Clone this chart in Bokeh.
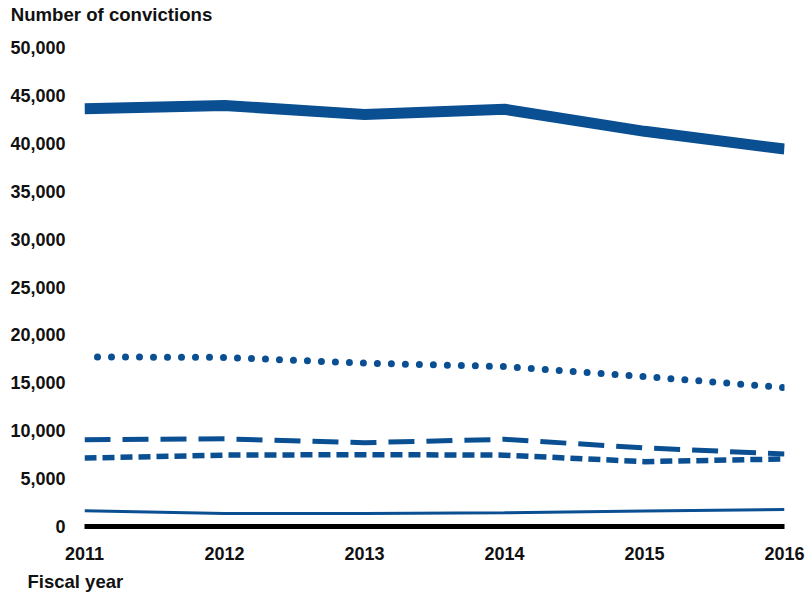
from bokeh.plotting import figure
from bokeh.models import FixedTicker, NumeralTickFormatter, Range1d, LinearAxis, Title
from bokeh.embed import file_html
from bokeh.resources import INLINE

years = [2011, 2012, 2013, 2014, 2015, 2016]
series_total = [43600, 43950, 43000, 43550, 41250, 39400]
series_dotted = [17700, 17650, 17050, 16700, 15650, 14500]
series_longdash = [9050, 9150, 8750, 9100, 8200, 7570]
series_shortdash = [7150, 7450, 7500, 7450, 6770, 7050]
series_thin = [1650, 1350, 1350, 1430, 1630, 1770]
y_ticks = [0, 5000, 10000, 15000, 20000, 25000, 30000, 35000, 40000, 45000, 50000]
y_title = "Number of convictions"
x_title = "Fiscal year"

BLUE = "#0a4f92"
FONT = "Liberation Sans"
TXT = "#111111"

p = figure(width=810, height=598, output_backend="svg", toolbar_location=None,
           x_range=Range1d(2011, 2016), y_range=Range1d(0, 50000),
           min_border_left=84, min_border_right=26, min_border_top=46, min_border_bottom=72)
p.outline_line_color = None
p.xgrid.grid_line_color = None
p.ygrid.grid_line_color = None
p.title.text = ""

p.line(years, series_total, line_color=BLUE, line_width=11)
p.line(years, series_dotted, line_color=BLUE, line_width=7, line_dash="0 14",
       line_cap="round", line_dash_offset=1)
p.line(years, series_longdash, line_color=BLUE, line_width=5, line_dash="26 12")
p.line(years, series_shortdash, line_color=BLUE, line_width=5.5, line_dash="12 6")
p.line(years, series_thin, line_color=BLUE, line_width=3)


def style_axis(ax, size="18px"):
    ax.major_tick_line_color = None
    ax.minor_tick_line_color = None
    ax.major_tick_out = 0
    ax.major_tick_in = 0
    ax.major_label_text_font = FONT
    ax.major_label_text_font_style = "bold"
    ax.major_label_text_font_size = size
    ax.major_label_text_color = TXT


xa = p.xaxis[0]
xa.ticker = FixedTicker(ticks=years)
xa.axis_line_color = "black"
xa.axis_line_width = 5
xa.major_label_standoff = 20
style_axis(xa)

ya = p.yaxis[0]
ya.ticker = FixedTicker(ticks=y_ticks)
ya.formatter = NumeralTickFormatter(format="0,0")
ya.axis_line_color = None
ya.major_label_standoff = 19
style_axis(ya)

# pixel-unit helper range used only to place the y title as a tick label above the plot
p.extra_x_ranges = {"px": Range1d(84, 784)}

top_ax = LinearAxis(x_range_name="px", ticker=FixedTicker(ticks=[111]),
                    major_label_overrides={111: y_title}, axis_line_color=None,
                    major_label_standoff=23)
style_axis(top_ax, "18.6px")
p.add_layout(top_ax, "above")

p.add_layout(Title(text=x_title, align="left", offset=-57, standoff=12,
                   text_font=FONT, text_font_style="bold", text_font_size="18.5px",
                   text_color=TXT), "below")

open("out.html", "w").write(file_html(p, INLINE))
